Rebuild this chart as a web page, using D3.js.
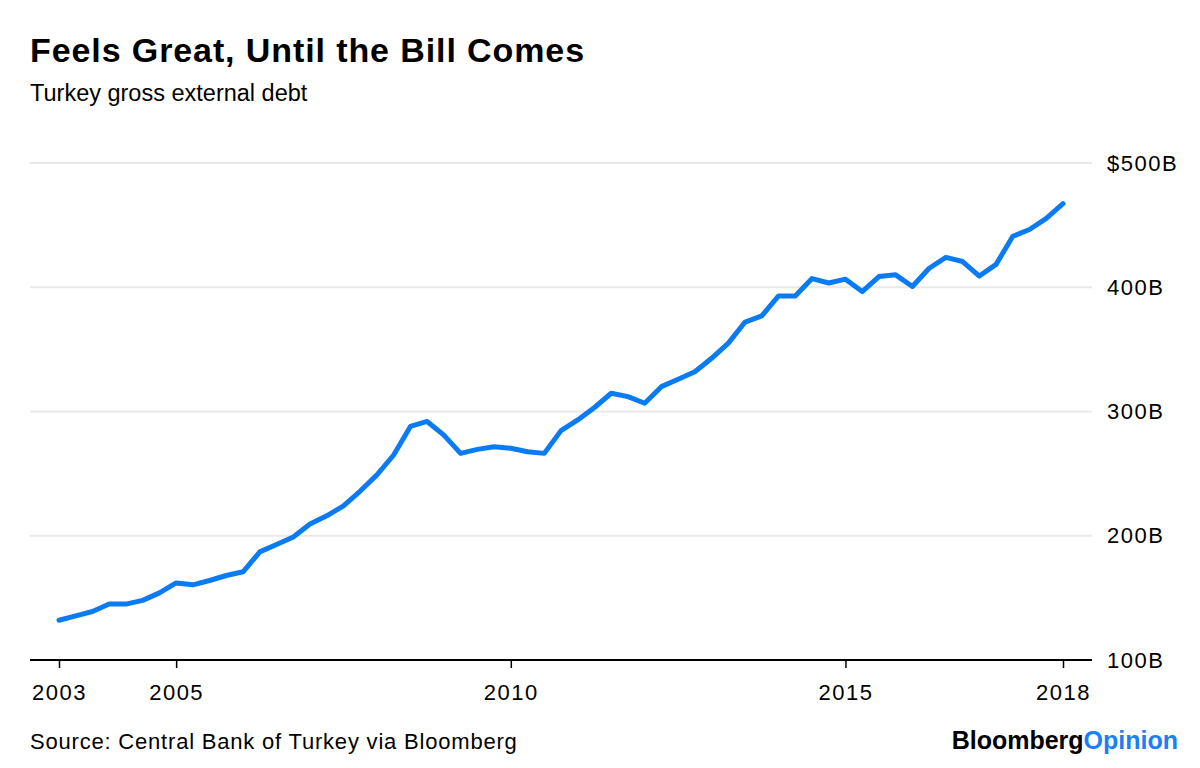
<!DOCTYPE html>
<html>
<head>
<meta charset="utf-8">
<script src="https://d3js.org/d3.v7.min.js"></script>
<style>
  body { margin: 0; background: #fff; }
  svg text { font-family: "Liberation Sans", Arial, sans-serif; fill: #000; }
</style>
</head>
<body>
<div id="chart"></div>
<script>
// Turkey gross external debt, $B, quarterly from 2003 Q1 to 2018 Q1
var startYear = 2003;
var debt = [
  132, 135.5, 139, 145, 145, 148, 154, 162, 160.5, 164,
  168, 171, 187, 193, 199, 209.5, 216, 224, 236, 249,
  265, 288, 292, 281, 266.3, 269.5, 271.7, 270.4, 267.6, 266.3,
  284.6, 293.2, 303.2, 314.7, 312, 306.6, 320, 325.9, 332, 342.8,
  355, 372, 377, 393, 393, 407, 403.4, 406.5, 396.5, 408.6,
  410, 400.6, 415.3, 424, 420.7, 409, 418.4, 441, 446.5, 455.4,
  467.3
];
var yTicks = [100, 200, 300, 400, 500];
var xTicks = [2003.25, 2005, 2010, 2015, 2018.25];
var xTickLabels = ["2003", "2005", "2010", "2015", "2018"];

var title = "Feels Great, Until the Bill Comes";
var subtitle = "Turkey gross external debt";
var source = "Source: Central Bank of Turkey via Bloomberg";

// quarter-end positions as decimal years
var data = debt.map(function(v, i) {
  return { t: startYear + (i + 1) / 4, v: v };
});

var width = 1200, height = 768;
var left = 30, right = 1092;

var svg = d3.select("#chart").append("svg")
    .attr("width", width)
    .attr("height", height);

var x = d3.scaleLinear()
    .domain([data[0].t, data[data.length - 1].t])
    .range([59, 1063]);

var y = d3.scaleLinear()
    .domain([100, 500])
    .range([660, 163]);

// titles
svg.append("text")
    .attr("x", left).attr("y", 62)
    .style("font-size", "34px")
    .style("font-weight", "bold")
    .style("letter-spacing", "0.9px")
    .text(title);

svg.append("text")
    .attr("x", left).attr("y", 101)
    .style("font-size", "23.5px")
    .text(subtitle);

// gridlines
svg.selectAll(".grid")
    .data(yTicks.filter(function(d) { return d > 100; }))
  .enter().append("line")
    .attr("class", "grid")
    .attr("x1", left).attr("x2", right)
    .attr("y1", function(d) { return y(d); })
    .attr("y2", function(d) { return y(d); })
    .attr("stroke", "#e9e9e9")
    .attr("stroke-width", 2);

// y labels on the right
var yAxis = d3.axisRight(y)
    .tickValues(yTicks)
    .tickSize(0)
    .tickPadding(0)
    .tickFormat(function(d) { return (d === 500 ? "$" : "") + d + "B"; });

var gy = svg.append("g")
    .attr("transform", "translate(1107,0)")
    .call(yAxis);
gy.select(".domain").remove();
gy.selectAll("text")
    .style("font-size", "22px")
    .style("letter-spacing", "1.5px")
    .attr("fill", "#000");

// x axis
var xAxis = d3.axisBottom(x)
    .tickValues(xTicks)
    .tickSize(8)
    .tickPadding(16)
    .tickFormat(function(d, i) { return xTickLabels[i]; });

var gx = svg.append("g")
    .attr("transform", "translate(0,660)")
    .call(xAxis);
gx.select(".domain").remove();
gx.selectAll(".tick line").attr("stroke", "#000").attr("stroke-width", 1.5);
gx.selectAll("text")
    .style("font-size", "22px")
    .style("letter-spacing", "1.5px")
    .attr("fill", "#000");

svg.append("line")
    .attr("x1", left).attr("x2", right)
    .attr("y1", 660).attr("y2", 660)
    .attr("stroke", "#000")
    .attr("stroke-width", 2);

// the line
var line = d3.line()
    .x(function(d) { return x(d.t); })
    .y(function(d) { return y(d.v); });

svg.append("path")
    .datum(data)
    .attr("d", line)
    .attr("fill", "none")
    .attr("stroke", "#0b7bf4")
    .attr("stroke-width", 5)
    .attr("stroke-linejoin", "round")
    .attr("stroke-linecap", "round");

// footer
svg.append("text")
    .attr("x", left).attr("y", 749)
    .style("font-size", "22px")
    .style("letter-spacing", "0.8px")
    .text(source);

var brand = svg.append("text")
    .attr("x", 1178).attr("y", 749)
    .attr("text-anchor", "end")
    .style("font-size", "25px")
    .style("font-weight", "bold");
brand.append("tspan").text("Bloomberg");
brand.append("tspan").style("fill", "#1b7ff5").text("Opinion");
</script>
</body>
</html>
